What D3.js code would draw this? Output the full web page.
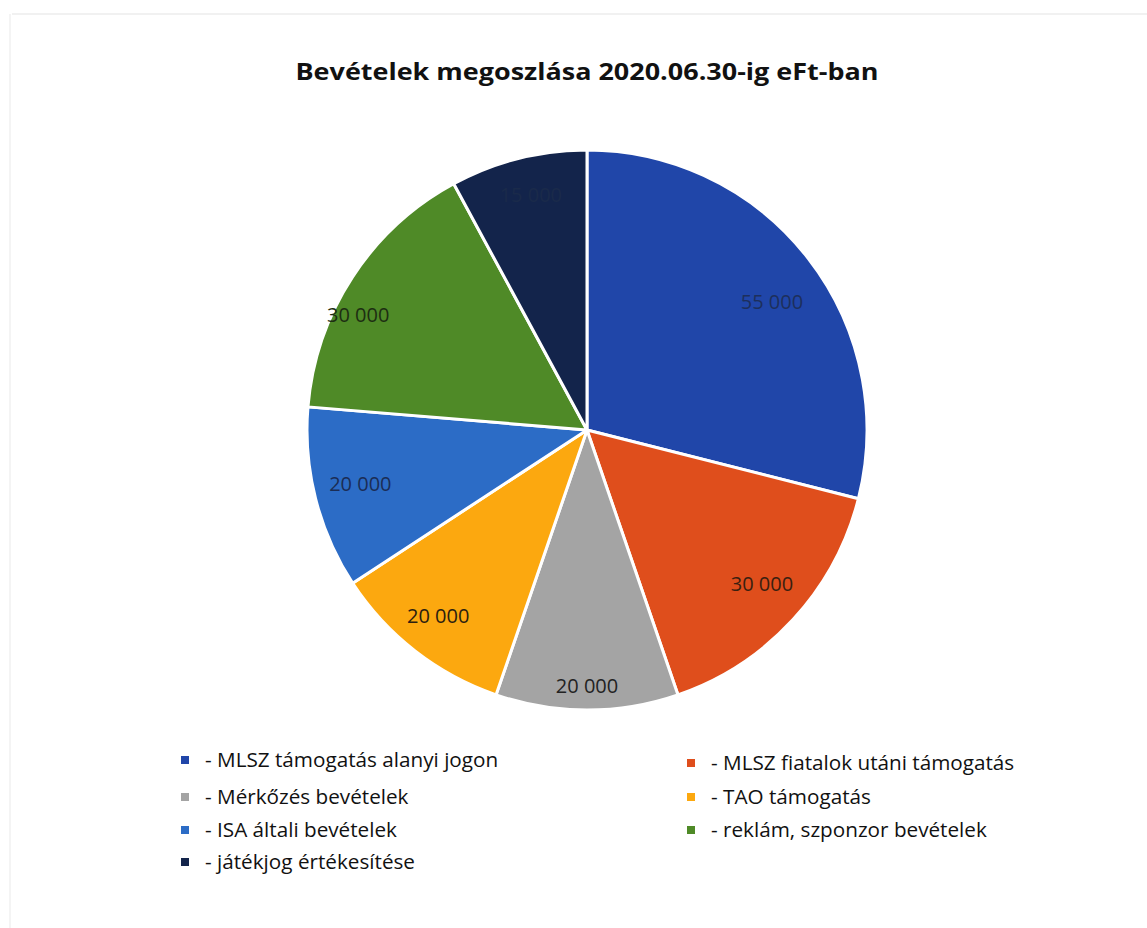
<!DOCTYPE html>
<html><head><meta charset="utf-8">
<script src="https://cdn.jsdelivr.net/npm/d3@7"></script>
<style>body{margin:0;background:#fff}svg{display:block}</style>
</head><body>
<script>
const categories = ["- MLSZ támogatás alanyi jogon","- MLSZ fiatalok utáni támogatás","- Mérkőzés bevételek","- TAO támogatás","- ISA általi bevételek","- reklám, szponzor bevételek","- játékjog értékesítése"];
const values = [55000, 30000, 20000, 20000, 20000, 30000, 15000];
const valueLabels = ["55 000","30 000","20 000","20 000","20 000","30 000","15 000"];
const colors = ["#2046a9","#df4e1c","#a4a4a4","#fca80f","#2c6cc6","#4f8a27","#13244b"];
const labelColors = ["#1d2f5c","#3a2010","#222","#2b2010","#1b2d55","#1d2e12","#1a2a4a"];
const title = "Bevételek megoszlása 2020.06.30-ig eFt-ban";

const W=1147,H=928;
const svg=d3.select("body").append("svg").attr("width",W).attr("height",H);
// faint scan border
svg.append("line").attr("x1",12).attr("x2",1147).attr("y1",14).attr("y2",14).attr("stroke","#ececec").attr("stroke-width",1.5);
svg.append("line").attr("x1",10).attr("x2",10).attr("y1",14).attr("y2",928).attr("stroke","#f0f0f0").attr("stroke-width",1.5);

svg.append("text").attr("x",587).attr("y",80).attr("text-anchor","middle")
  .attr("font-family","'Open Sans',sans-serif").attr("font-weight","bold").attr("font-size",24)
  .attr("fill","#111").text(title)
  .attr("textLength",583).attr("lengthAdjust","spacingAndGlyphs");

const cx=587,cy=430,R=280;
const pie=d3.pie().sort(null).value(d=>d)(values);
const arc=d3.arc().innerRadius(0).outerRadius(R);
const g=svg.append("g").attr("transform",`translate(${cx},${cy})`);
g.selectAll("path").data(pie).join("path").attr("d",arc)
  .attr("fill",(d,i)=>colors[i]).attr("stroke","#fff").attr("stroke-width",3).attr("stroke-linejoin","round");
// label placement (style): radius and small angular nudge in degrees
const labelR=[225,233,256,238,233,256,242];
const labelNudge=[3.2,-1.3,0,0.8,0.8,-6.5,0.8];
g.selectAll("text").data(pie).join("text")
  .attr("transform",(d,i)=>{const a=(d.startAngle+d.endAngle)/2+labelNudge[i]*Math.PI/180;return `translate(${Math.sin(a)*labelR[i]},${-Math.cos(a)*labelR[i]})`;})
  .attr("text-anchor","middle").attr("dy","0.35em")
  .attr("font-family","'Open Sans',sans-serif").attr("font-size",20)
  .attr("fill",(d,i)=>labelColors[i]).text((d,i)=>valueLabels[i]);

const legPos=[[185,760],[691,763],[185,797],[691,797],[185,830],[691,830],[185,862]];
const lg=svg.append("g");
categories.forEach((c,i)=>{
  const [x,y]=legPos[i];
  lg.append("rect").attr("x",x-4).attr("y",y-4).attr("width",8).attr("height",8).attr("fill",colors[i]);
  lg.append("text").attr("x",x+20).attr("y",y).attr("dy","0.35em")
    .attr("font-family","'Open Sans',sans-serif").attr("font-size",20.7).attr("fill","#111").text(c);
});
</script>
</body></html>
